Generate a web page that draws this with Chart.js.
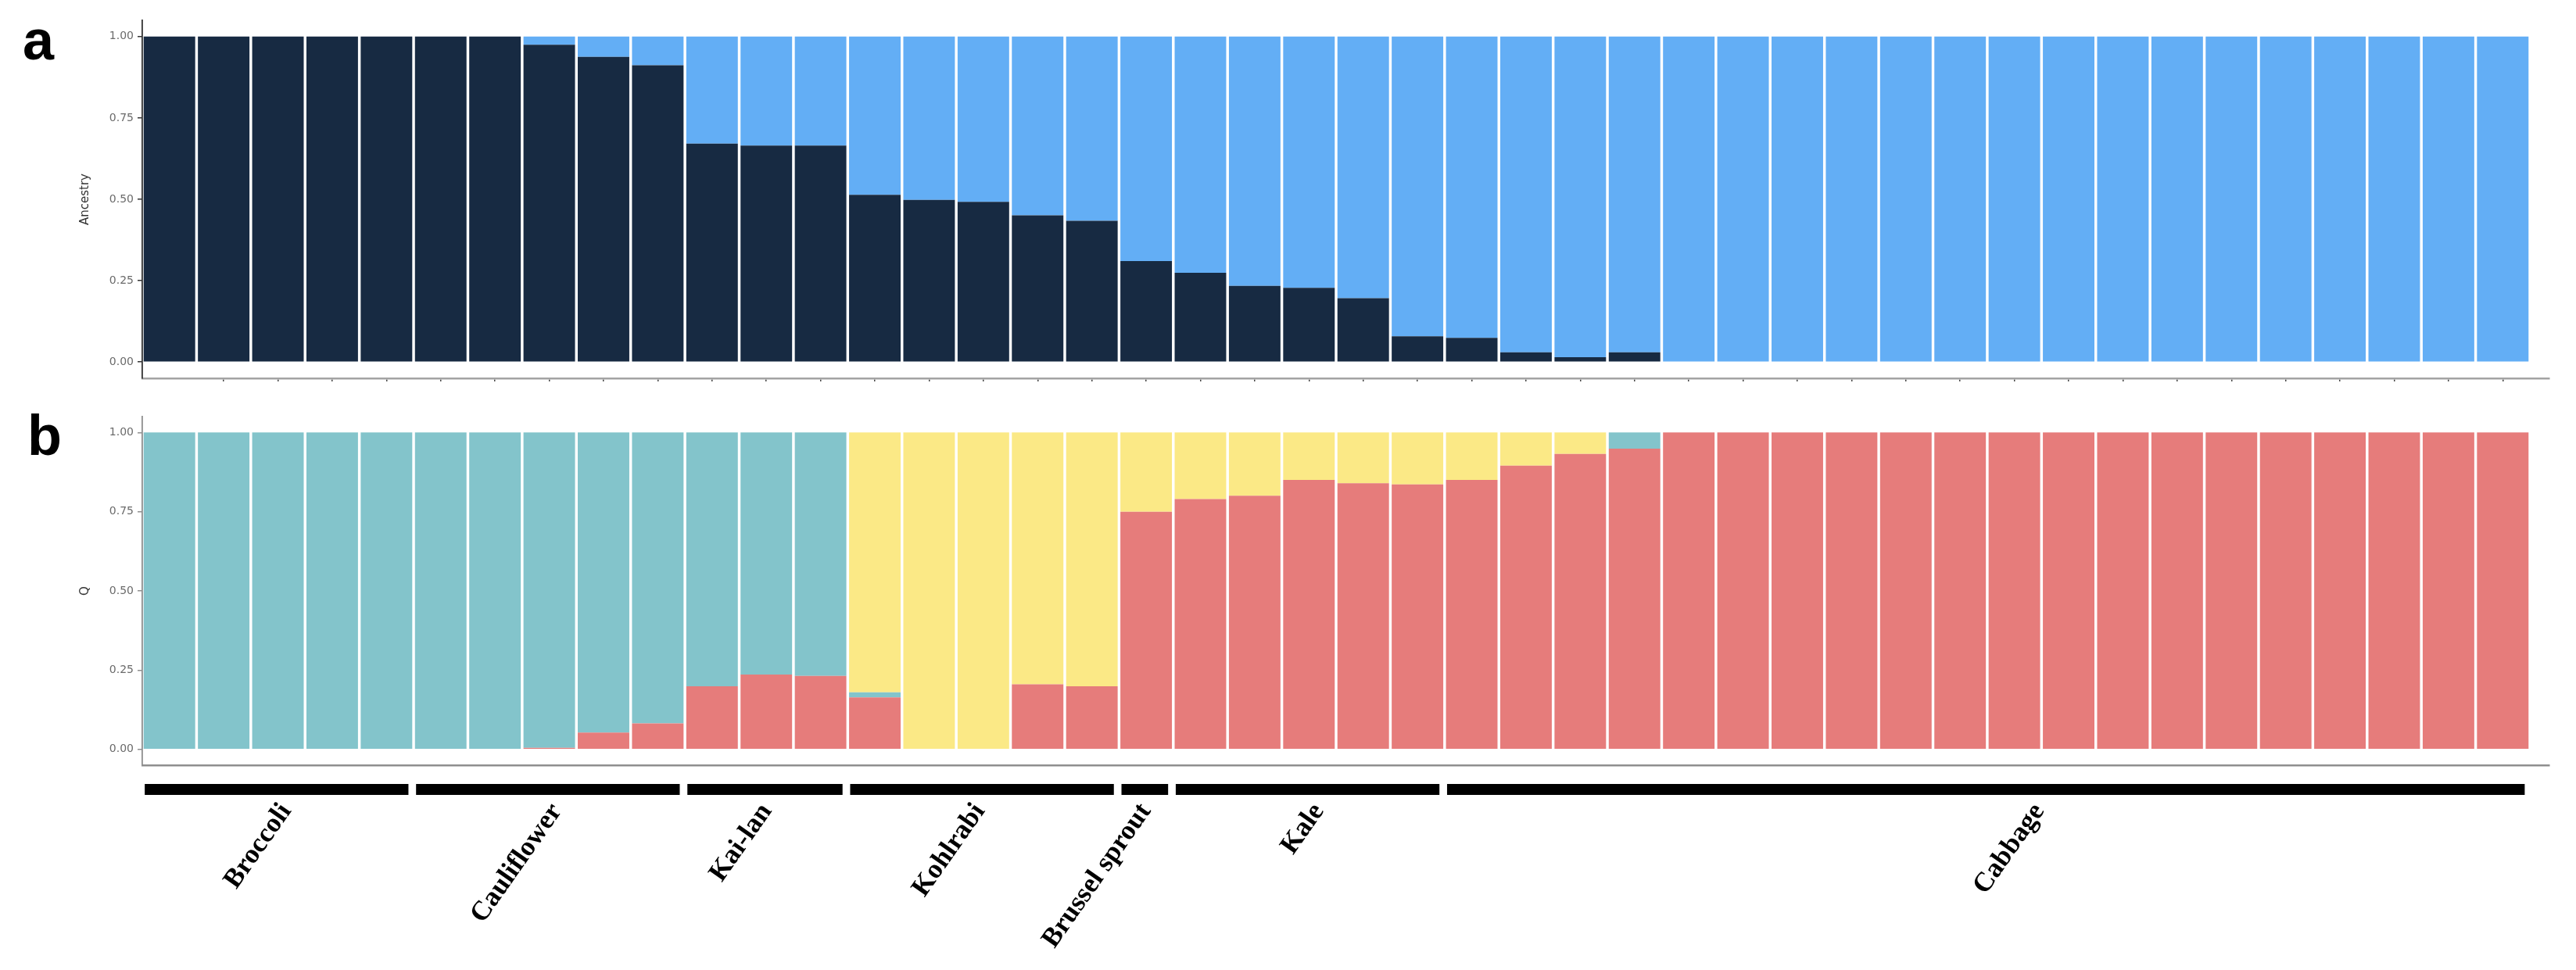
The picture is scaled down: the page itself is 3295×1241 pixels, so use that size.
<!DOCTYPE html>
<html><head><meta charset="utf-8">
<script src="https://cdn.jsdelivr.net/npm/chart.js@4/dist/chart.umd.min.js"></script>
<style>
html,body{margin:0;padding:0;background:#fff;width:3295px;height:1241px;overflow:hidden;}
.box{position:absolute;left:0;width:3295px;}
canvas{display:block;}
</style></head><body>
<div class="box" style="top:0;height:500px"><canvas id="ca" width="3295" height="500"></canvas></div>
<div class="box" style="top:500px;height:495px"><canvas id="cb" width="3295" height="495"></canvas></div>
<div class="box" style="top:990px;height:251px"><canvas id="cc" width="3295" height="251"></canvas></div>
<script>
// ---------------- DATA ----------------
const samples = [1,2,3,4,5,6,7,8,9,10,11,12,13,14,15,16,17,18,19,20,21,22,23,24,25,26,27,28,29,30,31,32,33,34,35,36,37,38,39,40,41,42,43,44];

// panel a: Ancestry (two components)
const ancestryDark  = [1,1,1,1,1,1,1,0.975,0.938,0.912,0.671,0.665,0.665,0.514,0.498,0.492,0.451,0.434,0.310,0.274,0.234,0.228,0.196,0.079,0.074,0.030,0.015,0.030,0,0,0,0,0,0,0,0,0,0,0,0,0,0,0,0];
const ancestryLight = [0,0,0,0,0,0,0,0.025,0.062,0.088,0.329,0.335,0.335,0.486,0.502,0.508,0.549,0.566,0.690,0.726,0.766,0.772,0.804,0.921,0.926,0.970,0.985,0.970,1,1,1,1,1,1,1,1,1,1,1,1,1,1,1,1];

// panel b: Q (three clusters)
const qRed    = [0,0,0,0,0,0,0,0.005,0.053,0.082,0.199,0.236,0.232,0.164,0,0,0.205,0.199,0.750,0.790,0.800,0.850,0.840,0.836,0.850,0.895,0.932,0.949,1,1,1,1,1,1,1,1,1,1,1,1,1,1,1,1];
const qTeal   = [1,1,1,1,1,1,1,0.995,0.947,0.918,0.801,0.764,0.768,0.016,0,0,0,0,0,0,0,0,0,0,0,0,0,0.051,0,0,0,0,0,0,0,0,0,0,0,0,0,0,0,0];
const qYellow = [0,0,0,0,0,0,0,0,0,0,0,0,0,0.820,1,1,0.795,0.801,0.250,0.210,0.200,0.150,0.160,0.164,0.150,0.105,0.068,0,0,0,0,0,0,0,0,0,0,0,0,0,0,0,0,0];

// groups
const groupNames = ['Broccoli','Cauliflower','Kai-lan','Kohlrabi','Brussel sprout','Kale','Cabbage'];
const groupSizes = [5,5,3,5,1,5,20];

// axis ticks
const yTicks = [0,0.25,0.5,0.75,1];
const yTickLabels = ['0.00','0.25','0.50','0.75','1.00'];

// ---------------- STYLE / LAYOUT ----------------
const COL = {dark:'#172a42', light:'#63aef5', red:'#e67c7b', teal:'#83c4cb', yellow:'#fbe986'};
const X_MIN = -0.5, X_MAX = 43.86;
const labelNudge = [-4,-5,-14,-19,-15,-2,52];

Chart.defaults.animation = false;
Chart.defaults.responsive = false;
Chart.defaults.devicePixelRatio = 1;

function pts(arr){ return arr.map((v,i)=>({x:i, y:v})); }

function barDs(label, arr, color){
  return {label, data: pts(arr), backgroundColor: color, borderWidth: 0,
          categoryPercentage: 1, barPercentage: 0.95};
}

function xScale(withTicks, borderColor){
  return {
    type:'linear', min:X_MIN, max:X_MAX, stacked:true, offset:false,
    afterBuildTicks: s => { s.ticks = s.ticks.filter(t => t.value >= 0 && Math.abs(t.value - Math.round(t.value)) < 1e-6); },
    ticks:{display:false, stepSize:1},
    grid:{offset:false, drawOnChartArea:false, drawTicks:withTicks, tickLength:4, color:'#444', lineWidth:1.5},
    border:{display:true, color:borderColor, width:2.5},
    afterFit: s => { s.height = 16; }
  };
}

function yScale(title, borderColor){
  return {
    min:-0.05, max:1.05, stacked:true,
    afterBuildTicks: s => { s.ticks = yTicks.map(v => ({value:v})); },
    ticks:{ callback:(v,i)=> yTickLabels[i], font:{family:'DejaVu Sans', size:14}, color:'#6b6b6b', padding:5 },
    grid:{drawOnChartArea:false, drawTicks:true, tickLength:6, color:borderColor, lineWidth:1.5},
    border:{display:true, color:borderColor, width:1.8},
    title:{display:true, text:title, font:{family:'DejaVu Sans', size:15}, color:'#333', padding:{top:5,bottom:0}},
    afterFit: s => { s.width = 87; }
  };
}

function letterPlugin(ch, x, y){
  return {id:'letter_'+ch, afterDraw(chart){
    const c = chart.ctx; c.save();
    c.font = 'bold 72px "Liberation Sans", Arial, sans-serif';
    c.fillStyle = '#000'; c.textBaseline = 'alphabetic'; c.textAlign = 'left';
    c.fillText(ch, x, y); c.restore();
  }};
}

const commonPlugins = {legend:{display:false}, tooltip:{enabled:false}};

// ---------------- PANEL A ----------------
new Chart(document.getElementById('ca'), {
  type:'bar',
  data:{ datasets:[ barDs('Ancestry 1', ancestryDark, COL.dark), barDs('Ancestry 2', ancestryLight, COL.light) ] },
  options:{
    layout:{padding:{left:95, right:34, top:26, bottom:0}},
    plugins: commonPlugins,
    scales:{ x: xScale(true, '#a3a3a3'), y: yScale('Ancestry', '#333') }
  },
  plugins:[letterPlugin('a', 29, 76)]
});

// ---------------- PANEL B ----------------
new Chart(document.getElementById('cb'), {
  type:'bar',
  data:{ datasets:[ barDs('Cluster 1', qRed, COL.red), barDs('Cluster 2', qTeal, COL.teal), barDs('Cluster 3', qYellow, COL.yellow) ] },
  options:{
    layout:{padding:{left:95, right:34, top:33, bottom:0}},
    plugins: commonPlugins,
    scales:{ x: xScale(false, '#8f8f8f'), y: yScale('Q', '#8f8f8f') }
  },
  plugins:[letterPlugin('b', 35, 82)]
});

// ---------------- GROUP BARS + LABELS ----------------
const groupDatasets = [];
const groupCenters = [];
let start = 0;
groupSizes.forEach((n, gi) => {
  groupDatasets.push({ label: groupNames[gi], data:[[start - 0.5 + 0.05, start + n - 0.5 - 0.1]],
    backgroundColor:'#000', borderWidth:0, grouped:false, categoryPercentage:1, barPercentage:1 });
  groupCenters.push(start + (n - 1) / 2);
  start += n;
});

const groupLabelPlugin = {
  id:'groupLabels',
  afterDraw(chart){
    const c = chart.ctx, xs = chart.scales.x;
    c.save();
    c.font = 'bold 35px "Liberation Serif", "Times New Roman", serif';
    c.fillStyle = '#000'; c.textAlign = 'right'; c.textBaseline = 'top';
    groupNames.forEach((name, i) => {
      const px = xs.getPixelForValue(groupCenters[i]) + labelNudge[i];
      c.save(); c.translate(px, 32); c.rotate(-55 * Math.PI / 180);
      c.fillText(name, 0, 0); c.restore();
    });
    c.restore();
  }
};

new Chart(document.getElementById('cc'), {
  type:'bar',
  data:{ labels:[''], datasets: groupDatasets },
  options:{
    indexAxis:'y',
    layout:{padding:{left:182, right:34, top:13, bottom:224}},
    plugins: commonPlugins,
    scales:{
      x:{type:'linear', min:X_MIN, max:X_MAX, display:false, offset:false},
      y:{display:false}
    }
  },
  plugins:[groupLabelPlugin]
});
</script>
</body></html>
